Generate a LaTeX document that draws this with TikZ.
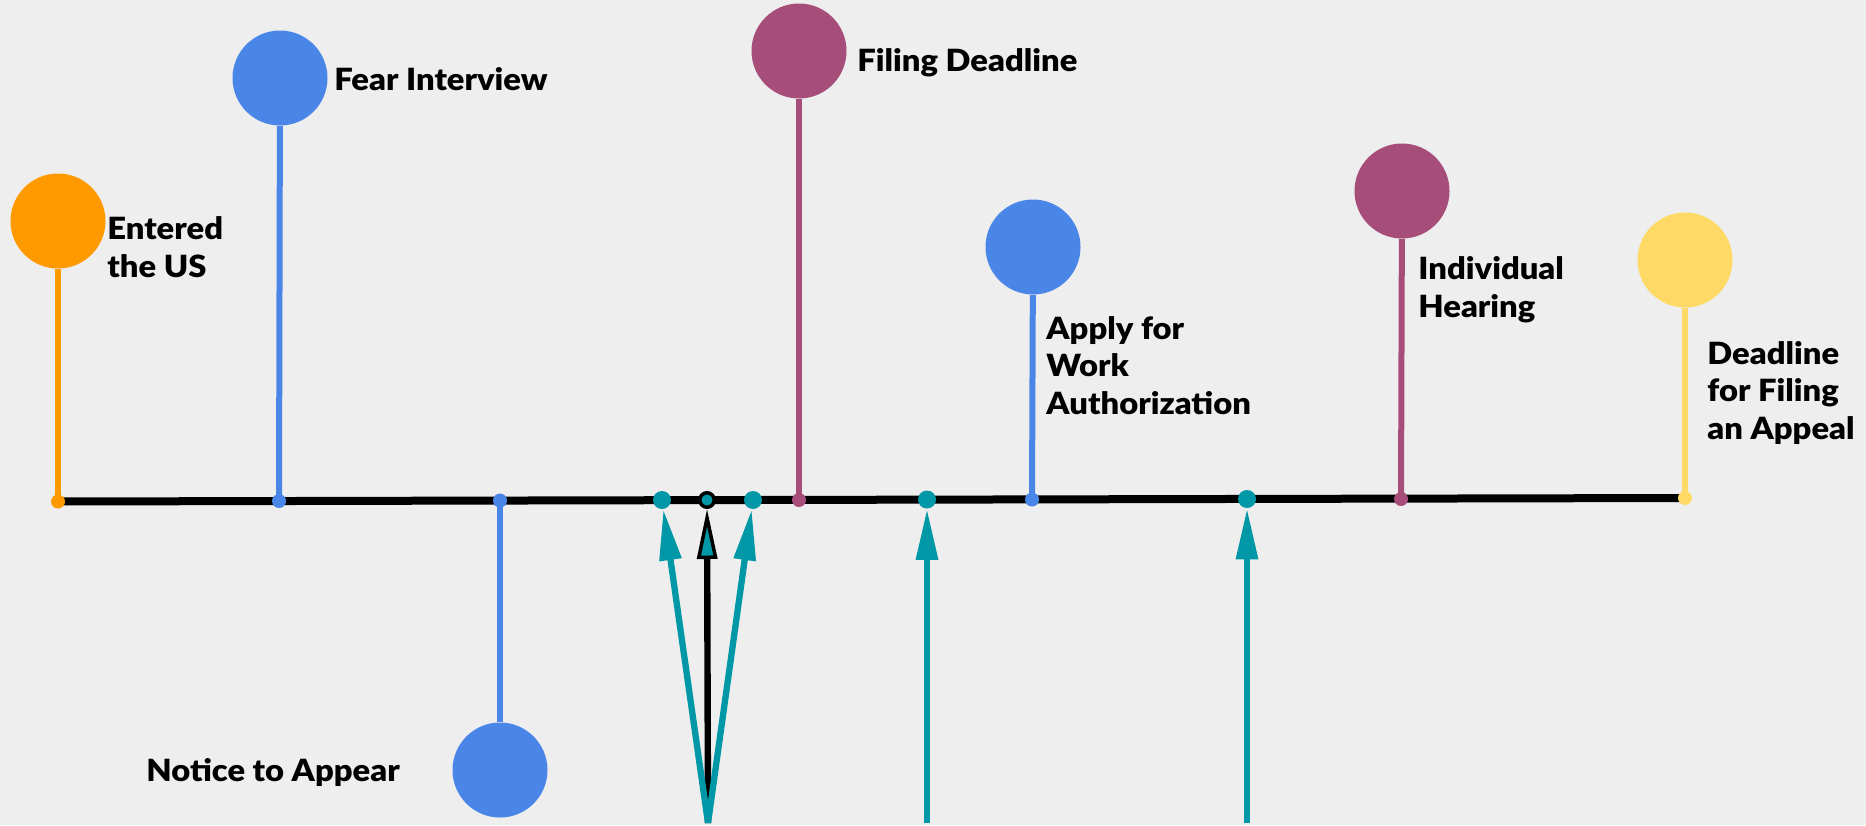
\documentclass[tikz,border=0pt]{standalone}
\usepackage{fontspec}
\setmainfont{Lato}[BoldFont={Lato Black},BoldFeatures={FakeStretch=1.07}]
\usetikzlibrary{arrows.meta}
\definecolor{bg}{HTML}{EEEEEE}
\definecolor{cOrange}{HTML}{FF9900}
\definecolor{cBlue}{HTML}{4A86E8}
\definecolor{cPurple}{HTML}{A64D79}
\definecolor{cYellow}{HTML}{FFD966}
\definecolor{cTeal}{HTML}{0098A6}
\begin{document}
\begin{tikzpicture}[x=0.5pt,y=-0.5pt,
  bigdot/.style={circle, fill=#1, minimum size=47.5pt, inner sep=0pt},
  smalldot/.style={circle, fill=#1, minimum size=7pt, inner sep=0pt},
  tealdot/.style={circle, fill=cTeal, minimum size=9pt, inner sep=0pt},
  ringdot/.style={circle, draw=black, line width=1.75pt, fill=cTeal, minimum size=7.25pt, inner sep=0pt},
  stem/.style={draw=#1, line width=3pt},
  timeline/.style={draw=black, line width=4pt},
  lbl/.style={font=\fontsize{15.3}{18.75}\selectfont\bfseries, align=left, anchor=base west, inner sep=0pt},
  tarrow/.style={draw=cTeal, line width=3.15pt, -{Triangle[length=25.5pt,width=10.5pt]}},
  karrow/.style={draw=black, line width=3.2pt, -{Triangle[length=25pt,width=10pt,line width=1.75pt,fill=cTeal]}},
]
\useasboundingbox (0,0) rectangle (1866,825);
\fill[bg] (0,0) rectangle (1866,825);

% timeline points
\coordinate (t1) at (58,501.5);
\coordinate (t2) at (279,501);
\coordinate (t3) at (500,500.5);
\coordinate (t4) at (662,500);
\coordinate (t5) at (707,500);
\coordinate (t6) at (753,500);
\coordinate (t7) at (799,500);
\coordinate (t8) at (927,499.5);
\coordinate (t9) at (1032,499.5);
\coordinate (t10) at (1247,499);
\coordinate (t11) at (1401,499);
\coordinate (t12) at (1685,498);

\draw[timeline] (t1) -- (t12);

% big circles
\node[bigdot=cOrange] (c1) at (58,221) {};
\node[bigdot=cBlue] (c2) at (280,78) {};
\node[bigdot=cBlue] (c3) at (500,770) {};
\node[bigdot=cPurple] (c7) at (799,51) {};
\node[bigdot=cBlue] (c9) at (1033,247) {};
\node[bigdot=cPurple] (c11) at (1402,191) {};
\node[bigdot=cYellow] (c12) at (1685,260) {};

% small dots on the line
\node[smalldot=cOrange] (d1) at (t1) {};
\node[smalldot=cBlue] (d2) at (t2) {};
\node[smalldot=cBlue] (d3) at (t3) {};
\node[tealdot] (d4) at (t4) {};
\node[ringdot] (d5) at (t5) {};
\node[tealdot] (d6) at (t6) {};
\node[smalldot=cPurple] (d7) at (t7) {};
\node[tealdot] (d8) at (t8) {};
\node[smalldot=cBlue] (d9) at (t9) {};
\node[tealdot] (d10) at (t10) {};
\node[smalldot=cPurple] (d11) at (t11) {};
\node[smalldot=cYellow] (d12) at (t12) {};

% stems
\draw[stem=cOrange] (c1) -- (d1.center);
\draw[stem=cBlue] (c2) -- (d2.center);
\draw[stem=cBlue] (c3) -- (d3.center);
\draw[stem=cPurple] (c7) -- (d7.center);
\draw[stem=cBlue] (c9) -- (d9.center);
\draw[stem=cPurple] (c11) -- (d11.center);
\draw[stem=cYellow] (c12) -- (d12.center);

% arrows
\coordinate (b1) at (708,823);
\coordinate (b8) at (927,823);
\coordinate (b10) at (1247,823);
\draw[karrow] (b1) -- (d5);
\draw[tarrow] (b1) -- (d4);
\draw[tarrow] (b1) -- (d6);
\draw[tarrow] (b8) -- (d8);
\draw[tarrow] (b10) -- (d10);

% labels (anchor = baseline of the last line)
\node[lbl] (l1) at (107,277) {Entered\\the US};
\node[lbl] (l2) at (334,90) {Fear Interview};
\node[lbl] (l3) at (146,781) {Notice to Appear};
\node[lbl] (l7) at (857,71) {Filing Deadline};
\node[lbl] (l9) at (1046,414) {Apply for\\Work\\Authorization};
\node[lbl] (l11) at (1418,317) {Individual\\Hearing};
\node[lbl] (l12) at (1707,439) {Deadline\\for Filing\\an Appeal};
\end{tikzpicture}
\end{document}
